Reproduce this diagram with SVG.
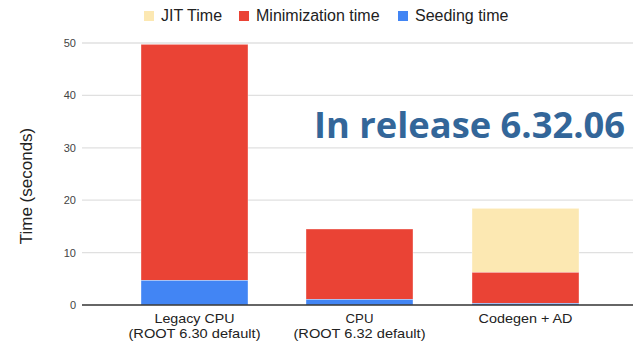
<svg xmlns="http://www.w3.org/2000/svg" width="633" height="342" viewBox="0 0 633 342">
<style>
.grid{stroke:#e0e0e0;stroke-width:1.3}
.base{stroke:#333;stroke-width:1.3}
.tick{font-family:"Liberation Sans",Arial,sans-serif;font-size:11px;fill:#444;text-anchor:end}
.xl{font-family:"Liberation Sans",Arial,sans-serif;font-size:13.2px;fill:#222;text-anchor:middle}
.lg{font-family:"Liberation Sans",Arial,sans-serif;font-size:16px;fill:#222}
.ttl{font-family:"Liberation Sans",Arial,sans-serif;font-size:17px;fill:#222;text-anchor:middle}
.red{fill:#ea4335}
.blue{fill:#4285f4}
.yel{fill:#fce8b2}
.bar{stroke:#fff;stroke-width:0.6;stroke-opacity:0.6}
.rel{font-family:"Open Sans","Noto Sans",sans-serif;font-weight:bold;font-size:35.5px;fill:#336699}
</style>
<rect width="633" height="342" fill="#fff"/>
<g id="legend">
  <g id="legend-jit"><rect class="yel" x="144" y="11" width="10" height="10"/><text class="lg" x="161" y="21">JIT Time</text></g>
  <g id="legend-min"><rect class="red" x="239" y="11" width="10" height="10"/><text class="lg" x="256" y="21">Minimization time</text></g>
  <g id="legend-seed"><rect class="blue" x="398" y="11" width="10" height="10"/><text class="lg" x="415" y="21">Seeding time</text></g>
</g>
<g id="grid">
  <line class="grid" x1="82" y1="43" x2="633" y2="43"/>
  <line class="grid" x1="82" y1="95.4" x2="633" y2="95.4"/>
  <line class="grid" x1="82" y1="147.8" x2="633" y2="147.8"/>
  <line class="grid" x1="82" y1="200.2" x2="633" y2="200.2"/>
  <line class="grid" x1="82" y1="252.6" x2="633" y2="252.6"/>
</g>
<g id="y-axis">
  <text class="tick" x="76" y="47">50</text>
  <text class="tick" x="76" y="99.4">40</text>
  <text class="tick" x="76" y="151.8">30</text>
  <text class="tick" x="76" y="204.2">20</text>
  <text class="tick" x="76" y="256.6">10</text>
  <text class="tick" x="76" y="309">0</text>
  <text class="ttl" transform="translate(31.5,186) rotate(-90)">Time (seconds)</text>
</g>
<g id="bar-legacy">
  <rect class="red bar" x="141" y="44.3" width="107" height="236"/>
  <rect class="blue bar" x="141" y="280.3" width="107" height="24.7"/>
</g>
<g id="bar-cpu">
  <rect class="red bar" x="306" y="229" width="107" height="70.3"/>
  <rect class="blue bar" x="306" y="299.3" width="107" height="5.7"/>
</g>
<g id="bar-codegen">
  <rect class="yel bar" x="472" y="208.3" width="107" height="64"/>
  <rect class="red bar" x="472" y="272.3" width="107" height="31"/>
  <rect class="blue bar" x="472" y="303.3" width="107" height="1.7"/>
</g>
<g id="x-axis">
  <line class="base" x1="82" y1="305" x2="633" y2="305"/>
  <text class="xl" x="194.5" y="322.5" textLength="80" lengthAdjust="spacingAndGlyphs">Legacy CPU</text>
  <text class="xl" x="194.5" y="337.7" textLength="132" lengthAdjust="spacingAndGlyphs">(ROOT 6.30 default)</text>
  <text class="xl" x="359.5" y="322.5">CPU</text>
  <text class="xl" x="359.5" y="337.7" textLength="132" lengthAdjust="spacingAndGlyphs">(ROOT 6.32 default)</text>
  <text class="xl" x="525.5" y="322.5" textLength="94" lengthAdjust="spacingAndGlyphs">Codegen + AD</text>
</g>
<g id="release-note">
  <text class="rel" x="314" y="138.3" textLength="311" lengthAdjust="spacingAndGlyphs">In release 6.32.06</text>
</g>
</svg>
